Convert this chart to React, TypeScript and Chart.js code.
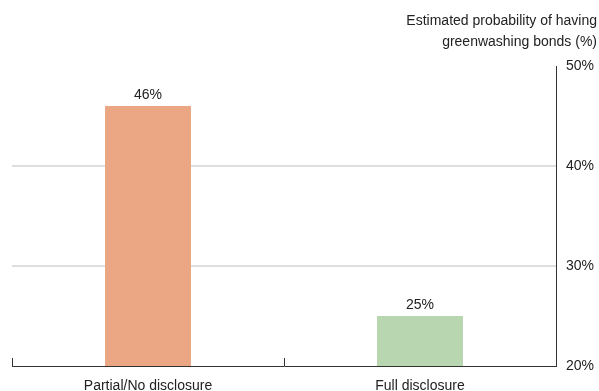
import React, { useEffect, useRef } from "react";
import { Chart, registerables } from "chart.js";

Chart.register(...registerables);

const categories = ["Partial/No disclosure", "Full disclosure"];
const values = [46, 25];
const barColors = ["#EBA783", "#B8D6B0"];
const titleLines = ["Estimated probability of having", "greenwashing bonds (%)"];
const yMin = 20;
const yMax = 50;
const yStep = 10;

const FONT = "'Liberation Sans', Arial, Helvetica, sans-serif";
const TEXT = "#222222";

const barLabelPlugin = {
  id: "barLabels",
  afterDatasetsDraw(chart: any) {
    const ctx = chart.ctx;
    const meta = chart.getDatasetMeta(0);
    ctx.save();
    ctx.font = `14px ${FONT}`;
    ctx.fillStyle = TEXT;
    ctx.textAlign = "center";
    ctx.textBaseline = "bottom";
    meta.data.forEach((bar: any, i: number) => {
      ctx.fillText(values[i] + "%", bar.x, bar.y - 4);
    });
    ctx.restore();
  },
};

const xTickPlugin = {
  id: "xUpTicks",
  afterDraw(chart: any) {
    const ctx = chart.ctx;
    const xs = chart.scales.x;
    const bottom = chart.chartArea.bottom;
    const n = categories.length;
    const half = (xs.getPixelForValue(1) - xs.getPixelForValue(0)) / 2;
    const positions: number[] = [];
    for (let i = 0; i < n; i++) positions.push(xs.getPixelForValue(i) - half);
    positions.push(xs.getPixelForValue(n - 1) + half);
    ctx.save();
    ctx.strokeStyle = "#333333";
    ctx.lineWidth = 1;
    positions.forEach((p) => {
      const x = Math.round(p) + 0.5;
      ctx.beginPath();
      ctx.moveTo(x, bottom);
      ctx.lineTo(x, bottom - 8);
      ctx.stroke();
    });
    ctx.restore();
  },
};

export default function App() {
  const ref = useRef<HTMLCanvasElement>(null);
  useEffect(() => {
    if (!ref.current) return;
    const chart = new Chart(ref.current, {
      type: "bar",
      data: {
        labels: categories,
        datasets: [
          {
            data: values,
            backgroundColor: barColors,
            borderWidth: 0,
            categoryPercentage: 1,
            barPercentage: 0.316,
          },
        ],
      },
      options: {
        animation: false,
        responsive: false,
        maintainAspectRatio: false,
        layout: { padding: { left: 12, right: 2, top: 0, bottom: 0 } },
        plugins: {
          legend: { display: false },
          tooltip: { enabled: false },
          title: {
            display: true,
            text: titleLines,
            align: "end",
            color: TEXT,
            font: { family: FONT, size: 14, weight: "normal", lineHeight: 1.5 },
            padding: { top: 11, bottom: 13 },
          },
        },
        scales: {
          x: {
            offset: true,
            border: { display: true, color: "#333333", width: 1 },
            grid: { display: false, drawTicks: false },
            ticks: {
              color: TEXT,
              padding: 12,
              font: { family: FONT, size: 14 },
              maxRotation: 0,
            },
            afterFit: (s: any) => {
              s.height = 25;
            },
          },
          y: {
            position: "right",
            min: yMin,
            max: yMax,
            border: { display: true, color: "#333333", width: 1 },
            grid: {
              drawTicks: false,
              lineWidth: 2,
              color: (c: any) => {
                const v = c.tick && c.tick.value;
                return v > yMin && v < yMax ? "#dedede" : "rgba(0,0,0,0)";
              },
            },
            ticks: {
              stepSize: yStep,
              padding: 10,
              color: TEXT,
              font: { family: FONT, size: 14 },
              callback: (v: any) => v + "%",
            },
            afterFit: (s: any) => {
              s.width = 41;
            },
          },
        },
      },
      plugins: [barLabelPlugin, xTickPlugin],
    });
    return () => chart.destroy();
  }, []);
  return (
    <div style={{ position: "fixed", left: 0, top: 0, width: 599, height: 391 }}>
      <canvas ref={ref} width={599} height={391} style={{ display: "block", width: 599, height: 391 }} />
    </div>
  );
}
